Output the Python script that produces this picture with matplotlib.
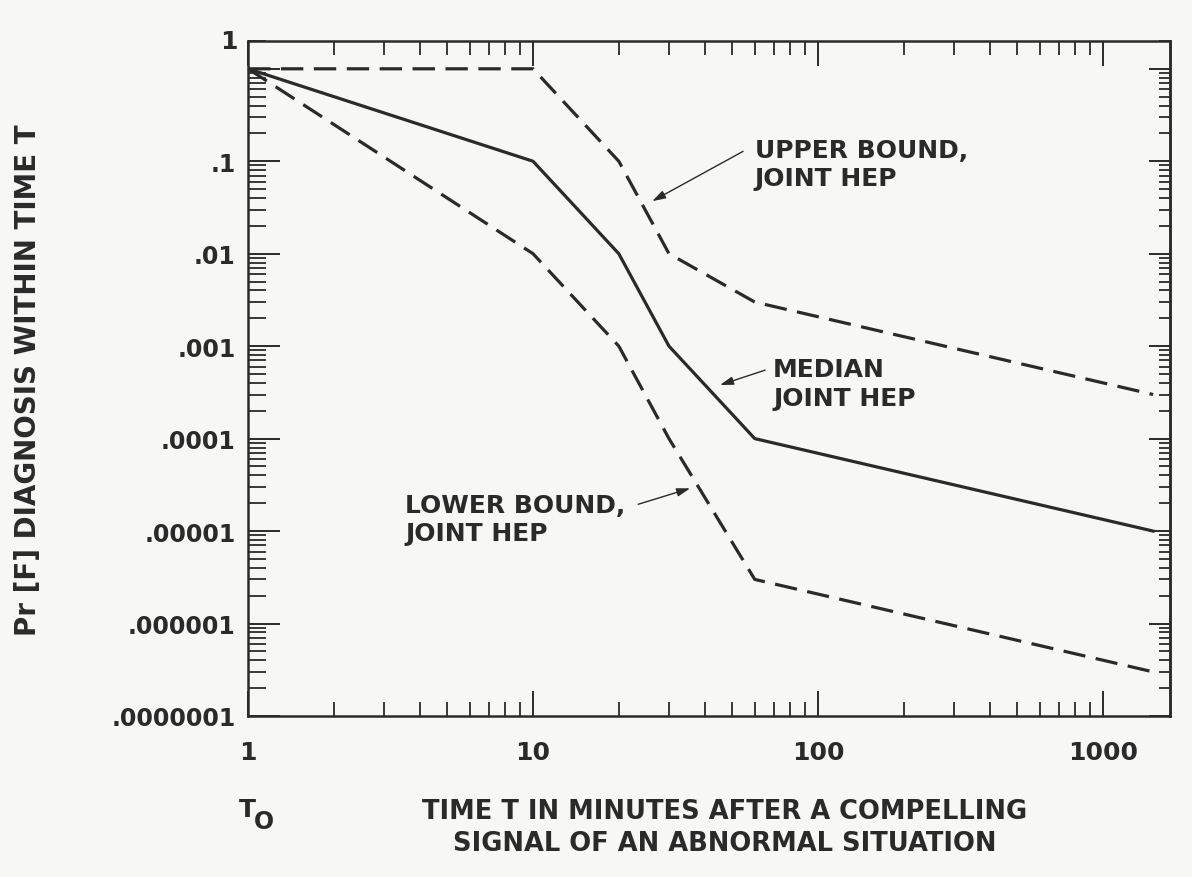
import numpy as np
import matplotlib
matplotlib.use("Agg")
import matplotlib.pyplot as plt
from matplotlib.ticker import LogLocator, NullFormatter

##data
t_min = [1, 10, 20, 30, 60, 1500]
median_hep = [1.0, 0.1, 0.01, 0.001, 0.0001, 0.00001]
upper_hep = [1.0, 1.0, 0.1, 0.01, 0.003, 0.0003]
lower_hep = [1.0, 0.01, 0.001, 0.0001, 0.000003, 0.0000003]

y_decades = [1e-7, 1e-6, 1e-5, 1e-4, 1e-3, 1e-2, 1e-1]
y_labels = ['.0000001', '.000001', '.00001', '.0001', '.001', '.01', '.1']
x_decades = [1, 10, 100, 1000]
x_labels = ['1', '10', '100', '1000']

ink = '#2a2a2a'
plt.rcParams['font.family'] = ['DejaVu Sans']
plt.rcParams['font.weight'] = 'bold'

##set up the figure
fig = plt.figure(figsize=(11.92, 8.78), dpi=100)
fig.patch.set_facecolor('#f7f7f5')
ax = fig.add_axes([0.2081, 0.1834, 0.7735, 0.7688])
ax.set_facecolor('#f7f7f5')
ax.set_xscale('log')
ax.set_yscale('log')
ax.set_xlim(1, 1720)
ax.set_ylim(1e-7, 2.0)

##the three curves
dash = (0, (7, 3.3))
ax.plot(t_min, upper_hep, color=ink, lw=2.3, linestyle=dash)
ax.plot(t_min, median_hep, color=ink, lw=2.3, linestyle='-')
ax.plot(t_min, lower_hep, color=ink, lw=2.3, linestyle=dash)

##ticks, all pointing inward
ax.set_xticks(x_decades)
ax.set_xticklabels(x_labels)
ax.set_yticks(y_decades + [1.0])
ax.set_yticklabels(y_labels + [''])
ax.xaxis.set_minor_locator(LogLocator(base=10, subs=np.arange(2, 10)))
ax.yaxis.set_minor_locator(LogLocator(base=10, subs=np.arange(2, 10), numticks=20))
ax.xaxis.set_minor_formatter(NullFormatter())
ax.yaxis.set_minor_formatter(NullFormatter())

ax.tick_params(axis='x', which='major', direction='in', length=18, width=1.4,
               top=True, bottom=True, labelsize=18, pad=17, colors=ink)
ax.tick_params(axis='x', which='minor', direction='in', length=10, width=1.3,
               top=True, bottom=True, colors=ink)
ax.tick_params(axis='y', which='major', direction='in', length=23, width=1.4,
               left=True, right=False, labelsize=17, pad=9, colors=ink)
ax.tick_params(axis='y', which='minor', direction='in', length=13, width=1.3,
               left=True, right=False, colors=ink)

##right side has shorter ticks
ax_r = ax.secondary_yaxis('right')
ax_r.set_yticks(y_decades + [1.0])
ax_r.yaxis.set_minor_locator(LogLocator(base=10, subs=np.arange(2, 10), numticks=20))
ax_r.tick_params(which='major', direction='in', length=15, width=1.4, labelright=False, colors=ink)
ax_r.tick_params(which='minor', direction='in', length=8, width=1.3, colors=ink)
ax_r.yaxis.set_minor_formatter(NullFormatter())
ax_r.spines['right'].set_linewidth(1.8)
ax_r.spines['right'].set_color(ink)

for s in ax.spines.values():
    s.set_linewidth(1.8)
    s.set_color(ink)

##the "1" label sits at the top of the frame in the original
ax.text(-0.011, 1.0, '1', transform=ax.transAxes, ha='right', va='center',
        fontsize=18, fontweight='bold', color=ink)

##labels on the curves
txt = dict(fontsize=18, fontweight='bold', color=ink, ha='left', va='top', linespacing=1.25)
arr = dict(arrowstyle='-|>,head_length=0.8,head_width=0.25', color=ink, lw=1.0,
           shrinkA=0, shrinkB=0)

ax.text(60, 0.18, 'UPPER BOUND,\nJOINT HEP', **txt)
ax.annotate('', xy=(26.2, 0.037), xytext=(54.6, 0.128), arrowprops=arr)

ax.text(69.5, 7.6e-4, 'MEDIAN\nJOINT HEP', **txt)
ax.annotate('', xy=(45.3, 3.8e-4), xytext=(65.2, 5.5e-4), arrowprops=arr)

ax.text(3.56, 2.6e-5, 'LOWER BOUND,\nJOINT HEP', **txt)
ax.annotate('', xy=(35.6, 2.9e-5), xytext=(23.4, 1.95e-5), arrowprops=arr)

##axis titles
fig.text(28 / 1192, 1 - 380 / 878, 'Pr [F] DIAGNOSIS WITHIN TIME T', rotation=90,
         ha='center', va='center', fontsize=20, fontweight='bold', color=ink)
fig.text(725 / 1192, 1 - 828 / 878,
         'TIME T IN MINUTES AFTER A COMPELLING\nSIGNAL OF AN ABNORMAL SITUATION',
         ha='center', va='center', fontsize=18.5, fontweight='bold', color=ink,
         linespacing=1.3, multialignment='center')
fig.text(247 / 1192, 1 - 810 / 878, 'T', ha='center', va='center',
         fontsize=18, fontweight='bold', color=ink)
fig.text(264 / 1192, 1 - 822 / 878, 'O', ha='center', va='center',
         fontsize=17, fontweight='bold', color=ink)

fig.savefig('out.png', dpi=100, facecolor=fig.get_facecolor())
